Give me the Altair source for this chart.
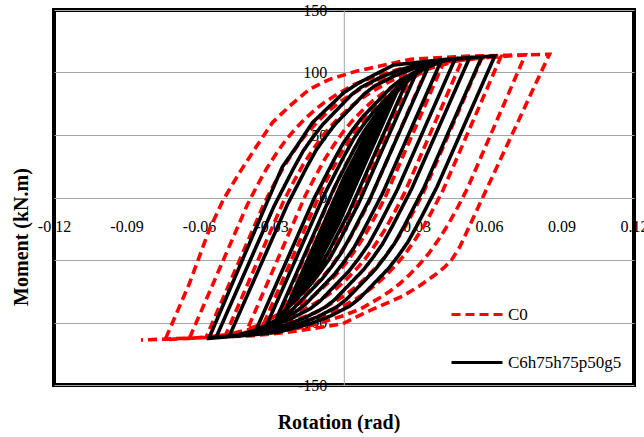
import altair as alt
import pandas as pd

# Series names, colours and dash patterns
SERIES = ["C0", "C6h75h75p50g5"]
COLORS = ["#ff0000", "#000000"]
DASHES = [[9, 5], [1, 0]]

# Axis ticks
X_TICKS = [-0.12, -0.09, -0.06, -0.03, 0, 0.03, 0.06, 0.09, 0.12]
Y_TICKS = [-150, -100, -50, 0, 50, 100, 150]

# Hysteresis path of specimen C0: (rotation [rad], moment [kN.m]) in loading order
C0_PATH = [
    (0, 0),
    (0.005, 22.3), (-0.005, -22.3),
    (0.010, 44.6), (-0.010, -44.6),
    (0.014, 62.4), (0.015, 65),
    (-0.009, -42), (-0.013, -57), (-0.015, -64),
    (0.009, 43), (0.013, 58), (0.017, 72), (0.020, 80),
    (-0.004, -27), (-0.008, -42), (-0.012, -56), (-0.016, -68), (-0.020, -79),
    (0.004, 28), (0.008, 43), (0.012, 57), (0.016, 69), (0.020, 80), (0.024, 89), (0.027, 94),
    (0.003, -13), (-0.001, -28), (-0.005, -42), (-0.009, -54), (-0.013, -65), (-0.017, -74),
    (-0.021, -82), (-0.026, -91),
    (-0.002, 16), (0.002, 31), (0.006, 45), (0.010, 57), (0.014, 68), (0.018, 77), (0.022, 85),
    (0.026, 92), (0.030, 98), (0.034, 102),
    (0.010, -5), (0.006, -20), (0.002, -34), (-0.002, -46), (-0.006, -57), (-0.010, -66),
    (-0.014, -74), (-0.018, -81), (-0.022, -87), (-0.026, -92), (-0.033, -100),
    (-0.009, 7), (-0.005, 22), (-0.001, 36), (0.003, 48), (0.007, 59), (0.011, 68), (0.015, 76),
    (0.019, 83), (0.023, 89), (0.027, 94), (0.035, 103), (0.041, 107),
    (0.017, 0), (0.013, -15), (0.009, -29), (0.005, -41), (0.001, -52), (-0.003, -61),
    (-0.007, -69), (-0.011, -76), (-0.015, -82), (-0.019, -87), (-0.027, -96), (-0.035, -102),
    (-0.040, -105.5),
    (-0.016, 1.5), (-0.012, 16.5), (-0.008, 30.5), (-0.004, 42.5), (0, 53.5), (0.004, 62.5),
    (0.008, 70.5), (0.012, 77.5), (0.016, 83.5), (0.020, 88.5), (0.028, 97.5), (0.036, 103.5),
    (0.049, 110.5),
    (0.025, 3.5), (0.021, -11.5), (0.017, -25.5), (0.013, -37.5), (0.009, -48.5), (0.005, -57.5),
    (0.001, -65.5), (-0.003, -72.5), (-0.007, -78.5), (-0.011, -83.5), (-0.019, -92.5),
    (-0.027, -98.5), (-0.037, -104.5), (-0.049, -110),
    (-0.025, -3), (-0.021, 12), (-0.017, 26), (-0.013, 38), (-0.009, 49), (-0.005, 58),
    (-0.001, 66), (0.003, 73), (0.007, 79), (0.011, 84), (0.019, 93), (0.027, 99), (0.037, 105),
    (0.046, 109), (0.057, 111.6),
    (0.033, 4.6), (0.029, -10.4), (0.025, -24.4), (0.021, -36.4), (0.017, -47.4), (0.013, -56.4),
    (0.009, -64.4), (0.005, -71.4), (0.001, -77.4), (-0.003, -82.4), (-0.011, -91.4),
    (-0.019, -97.4), (-0.029, -103.4), (-0.038, -107.4), (-0.057, -111.6),
    (-0.033, -4.6), (-0.029, 10.4), (-0.025, 24.4), (-0.021, 36.4), (-0.017, 47.4),
    (-0.013, 56.4), (-0.009, 64.4), (-0.005, 71.4), (-0.001, 77.4), (0.003, 82.4), (0.011, 91.4),
    (0.019, 97.4), (0.029, 103.4), (0.038, 107.4), (0.053, 110.9), (0.065, 113),
    (0.041, 6), (0.037, -9), (0.033, -23), (0.029, -35), (0.025, -46), (0.021, -55), (0.017, -63),
    (0.013, -70), (0.009, -76), (0.005, -81), (-0.003, -90), (-0.011, -96), (-0.021, -102),
    (-0.030, -106), (-0.045, -109.5), (-0.064, -112.8),
    (-0.040, -5.8), (-0.036, 9.2), (-0.032, 23.2), (-0.028, 35.2), (-0.024, 46.2),
    (-0.020, 55.2), (-0.016, 63.2), (-0.012, 70.2), (-0.008, 76.2), (-0.004, 81.2),
    (0.004, 90.2), (0.012, 96.2), (0.022, 102.2), (0.031, 106.2), (0.046, 109.7),
    (0.060, 112.2), (0.075, 114),
    (0.051, 7), (0.047, -8), (0.043, -22), (0.039, -34), (0.035, -45), (0.031, -54),
    (0.027, -62), (0.023, -69), (0.019, -75), (0.015, -80), (0.007, -89), (-0.001, -95),
    (-0.011, -101), (-0.020, -105), (-0.035, -108.5), (-0.049, -111), (-0.074, -113.7),
    (-0.064, -69), (-0.0558, -26), (-0.050, -2), (-0.0433, 19.7), (-0.0363, 40.6),
    (-0.0296, 60), (-0.0226, 73), (-0.0143, 86.5), (-0.006, 94.5), (0.005, 101),
    (0.0276, 110.6), (0.050, 113), (0.085, 114.6),
    (0.0574, 0), (0.0478, -40), (0.0445, -50), (0.0415, -56), (0.0383, -61), (0.031, -71),
    (0.0242, -79), (0.0106, -90.5), (-0.0006, -101), (-0.010, -104), (-0.024, -108),
    (-0.038, -110.6), (-0.057, -112), (-0.084, -114),
]

# Hysteresis path of specimen C6h75h75p50g5
C6_PATH = [
    (0, 0),
    (0.004, 17.6), (-0.004, -17.6),
    (0.007, 30.8), (-0.007, -30.8),
    (0.010, 44), (-0.010, -44),
    (0.013, 56), (-0.012, -52.5),
    (0.012, 52.5), (0.016, 67.5),
    (-0.008, -37.5), (-0.012, -52.5), (-0.015, -64),
    (0.009, 41), (0.013, 56), (0.017, 71), (0.019, 77.5),
    (-0.005, -27.5), (-0.009, -42.5), (-0.013, -57.5), (-0.017, -71.5), (-0.018, -74.5),
    (0.006, 30.5), (0.010, 45.5), (0.014, 60.5), (0.018, 74.5), (0.022, 85),
    (-0.002, -20), (-0.006, -35), (-0.010, -50), (-0.014, -64), (-0.018, -75), (-0.021, -82.5),
    (0.003, 22.5), (0.007, 37.5), (0.011, 52.5), (0.015, 66.5), (0.019, 77.5), (0.023, 87.5),
    (0.026, 93),
    (0.002, -12), (-0.002, -27), (-0.006, -42), (-0.010, -56), (-0.014, -67), (-0.018, -77),
    (-0.022, -85), (-0.024, -89),
    (0, 16), (0.004, 31), (0.008, 46), (0.012, 60), (0.016, 71), (0.020, 81), (0.024, 89),
    (0.030, 100),
    (0.006, -5), (0.002, -20), (-0.002, -35), (-0.006, -49), (-0.010, -60), (-0.014, -70),
    (-0.018, -78), (-0.022, -86), (-0.028, -97),
    (-0.004, 8), (0, 23), (0.004, 38), (0.008, 52), (0.012, 63), (0.016, 73), (0.020, 81),
    (0.024, 89), (0.028, 97), (0.035, 105),
    (0.011, 0), (0.007, -15), (0.003, -30), (-0.001, -44), (-0.005, -55), (-0.009, -65),
    (-0.013, -73), (-0.017, -81), (-0.021, -89), (-0.025, -95), (-0.032, -102),
    (-0.008, 3), (-0.004, 18), (0, 33), (0.004, 47), (0.008, 58), (0.012, 68), (0.016, 76),
    (0.020, 84), (0.024, 92), (0.028, 98), (0.032, 102), (0.040, 108.5),
    (0.016, 3.5), (0.012, -11.5), (0.008, -26.5), (0.004, -40.5), (0, -51.5), (-0.004, -61.5),
    (-0.008, -69.5), (-0.012, -77.5), (-0.016, -85.5), (-0.020, -91.5), (-0.028, -99.5),
    (-0.0363, -105.5),
    (-0.0123, -0.5), (-0.0083, 14.5), (-0.0043, 29.5), (-0.0003, 43.5), (0.0037, 54.5),
    (0.0077, 64.5), (0.0117, 72.5), (0.0157, 80.5), (0.0197, 88.5), (0.0237, 94.5),
    (0.0317, 102.5), (0.0397, 108.5), (0.046, 111),
    (0.022, 6), (0.018, -9), (0.014, -24), (0.010, -38), (0.006, -49), (0.002, -59),
    (-0.002, -67), (-0.006, -75), (-0.010, -83), (-0.014, -89), (-0.022, -97), (-0.030, -103),
    (-0.044, -110), (-0.0475, -111),
    (-0.0235, -6), (-0.0195, 9), (-0.0155, 24), (-0.0115, 38), (-0.0075, 49), (-0.0035, 59),
    (0.0005, 67), (0.0045, 75), (0.0085, 83), (0.0125, 89), (0.0205, 97), (0.0285, 103),
    (0.0425, 110), (0.052, 112),
    (0.028, 7), (0.024, -8), (0.020, -23), (0.016, -37), (0.012, -48), (0.008, -58),
    (0.004, -66), (0, -74), (-0.004, -82), (-0.008, -88), (-0.016, -96), (-0.024, -102),
    (-0.038, -109), (-0.0529, -111.8),
    (-0.0289, -6.8), (-0.0249, 8.2), (-0.0209, 23.2), (-0.0169, 37.2), (-0.0129, 48.2),
    (-0.0089, 58.2), (-0.0049, 66.2), (-0.0009, 74.2), (0.0031, 82.2), (0.0071, 88.2),
    (0.0151, 96.2), (0.0231, 102.2), (0.0371, 109.2), (0.057, 112.5),
    (0.033, 7.5), (0.029, -7.5), (0.025, -22.5), (0.021, -36.5), (0.017, -47.5), (0.013, -57.5),
    (0.009, -65.5), (0.005, -73.5), (0.001, -81.5), (-0.003, -87.5), (-0.011, -95.5),
    (-0.019, -101.5), (-0.033, -108.5), (-0.043, -110.5), (-0.0558, -112.2),
    (-0.031, 0), (-0.0255, 24.5), (-0.0197, 40.6), (-0.013, 60), (-0.006, 73), (0, 84),
    (0.0064, 92), (0.0205, 106), (0.0445, 111), (0.0624, 113.2),
    (0.0384, 8.2), (0.0344, -6.8), (0.0304, -21.8), (0.0264, -35.8), (0.0224, -46.8),
    (0.0184, -56.8), (0.0144, -64.8), (0.0104, -72.8), (0.0064, -80.8), (0.0024, -86.8),
    (-0.0056, -94.8), (-0.0136, -100.8), (-0.0276, -107.8), (-0.0376, -109.8),
    (-0.0568, -112.8),
]

rows = []
for name, path in zip(SERIES, [C0_PATH, C6_PATH]):
    for step, (rot, mom) in enumerate(path):
        rows.append({"series": name, "step": step, "rotation": rot, "moment": mom})
df = pd.DataFrame(rows)

SERIF = "Liberation Serif"

legend = alt.Legend(
    orient="none", legendX=396, legendY=277.5, title=None,
    symbolType="stroke", symbolSize=2600, symbolStrokeWidth=3,
    labelFont=SERIF, labelFontSize=17, labelColor="black", labelOffset=4,
    rowPadding=13, padding=0,
)

# Plain hyphen for negative tick labels
x_label = "datum.value == 0 ? '0' : replace(format(datum.value, '.2f'), '\u2212', '-')"
y_label = "replace(format(datum.value, 'd'), '\u2212', '-')"

x_axis = alt.Axis(
    values=X_TICKS, offset=-187.5, domain=False, ticks=False, grid=False,
    labelExpr=x_label,
    labelFont=SERIF, labelFontSize=16, labelColor="black", labelPadding=21,
    labelFlush=False, labelOverlap=False,
    title="Rotation (rad)", titleFont=SERIF, titleFontSize=20, titleFontWeight="bold",
    titleColor="black", titleX=284.5, titleY=230.5, titleBaseline="alphabetic",
    zindex=0,
)

y_axis = alt.Axis(
    values=Y_TICKS, offset=-289.8, domain=True, domainColor="#a6a6a6", domainWidth=1,
    ticks=False, grid=True, gridColor="#a6a6a6", gridWidth=1,
    labelExpr=y_label,
    labelFont=SERIF, labelFontSize=16, labelColor="black", labelPadding=17,
    labelFlush=False, labelOverlap=False, labelBaseline="middle",
    title="Moment (kN.m)", titleFont=SERIF, titleFontSize=20, titleFontWeight="bold",
    titleColor="black", titleAngle=270, titleX=-322.3, titleY=226.5,
    titleBaseline="middle", titleAlign="center",
    zindex=0,
)

chart = alt.Chart(df).mark_line(strokeWidth=3.6).encode(
    x=alt.X("rotation:Q", scale=alt.Scale(domain=[-0.12, 0.12], nice=False, zero=False),
            axis=x_axis),
    y=alt.Y("moment:Q", scale=alt.Scale(domain=[-150, 150], nice=False), axis=y_axis),
    color=alt.Color("series:N", scale=alt.Scale(domain=SERIES, range=COLORS), legend=legend),
    strokeDash=alt.StrokeDash("series:N", scale=alt.Scale(domain=SERIES, range=DASHES),
                              legend=legend),
    order=alt.Order("step:Q"),
).properties(
    width=580, height=375,
    autosize=alt.AutoSizeParams(type="none"),
    padding={"left": 54, "top": 10, "right": 10, "bottom": 52},
    background="white",
).configure_view(stroke="black", strokeWidth=4)  # heavy frame round the plot area

chart.save("out.html", embed_options={"renderer": "svg", "actions": False})
